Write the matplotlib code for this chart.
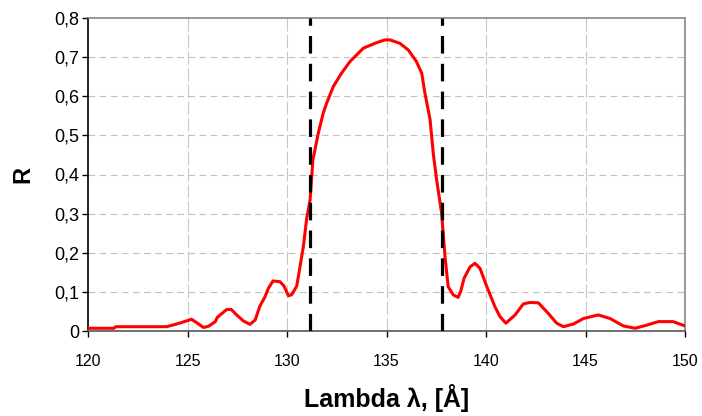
import matplotlib
matplotlib.use("Agg")
import matplotlib.pyplot as plt
from matplotlib.ticker import FuncFormatter

plt.rcParams['font.family'] = ['Liberation Sans', 'DejaVu Sans']

wavelength = [120.0, 121.3, 121.4, 123.95, 124.6, 125.2, 125.5, 125.8, 126.05, 126.4, 126.5,
              126.97, 127.2, 127.47, 127.8, 128.14, 128.4, 128.64, 128.9, 129.06, 129.3,
              129.65, 129.85, 130.07, 130.24, 130.49, 130.82, 130.99, 131.16, 131.3, 131.57,
              131.82, 131.99, 132.33, 132.74, 133.17, 133.84, 134.5, 134.92, 135.18, 135.68,
              136.1, 136.5, 136.77, 136.93, 137.19, 137.35, 137.52, 137.77, 137.94, 138.1,
              138.36, 138.6, 138.72, 138.9, 139.2, 139.45, 139.7, 140.03, 140.45, 140.7,
              141.0, 141.46, 141.87, 142.2, 142.63, 143.13, 143.55, 143.89, 144.4, 144.9,
              145.64, 146.23, 146.9, 147.49, 148.08, 148.66, 149.4, 150.0]
reflectance = [0.007, 0.007, 0.011, 0.011, 0.020, 0.030, 0.020, 0.009, 0.012, 0.024, 0.035,
               0.055, 0.055, 0.041, 0.026, 0.017, 0.028, 0.064, 0.088, 0.109, 0.128,
               0.126, 0.115, 0.090, 0.093, 0.115, 0.215, 0.288, 0.335, 0.437, 0.505,
               0.557, 0.582, 0.625, 0.659, 0.689, 0.723, 0.737, 0.744, 0.744, 0.735,
               0.718, 0.689, 0.659, 0.608, 0.540, 0.454, 0.386, 0.301, 0.190, 0.113,
               0.092, 0.086, 0.100, 0.135, 0.164, 0.173, 0.160, 0.115, 0.062, 0.037,
               0.020, 0.041, 0.069, 0.073, 0.072, 0.045, 0.020, 0.011, 0.018, 0.032,
               0.041, 0.032, 0.013, 0.007, 0.015, 0.024, 0.024, 0.013]
band_edges = [131.15, 137.8]
x_ticks = [120, 125, 130, 135, 140, 145, 150]
y_ticks = [0, 0.1, 0.2, 0.3, 0.4, 0.5, 0.6, 0.7, 0.8]

fig = plt.figure(figsize=(7.02, 4.16), dpi=100)
ax = fig.add_axes([88/702, 1-331/416, (685-88)/702, (331-18)/416])

for yv in y_ticks[1:-1]:
    ax.axhline(yv, color='#c0c0c0', lw=0.8, dashes=(6, 4), zorder=0)
for xv in x_ticks[1:-1]:
    ax.axvline(xv, color='#c8c8c8', lw=0.8, dashes=(12, 3), zorder=0)

ax.plot(wavelength, reflectance, color='#ff0000', lw=2.2, zorder=3)
for xe in band_edges:
    ax.axvline(xe, color='black', lw=2.3, dashes=(5.5, 3.2), zorder=4)

ax.set_xlim(120, 150)
ax.set_ylim(0, 0.8)
ax.set_xticks(x_ticks)
ax.set_yticks(y_ticks)
ax.yaxis.set_major_formatter(FuncFormatter(lambda v, p: '0' if abs(v) < 1e-9 else f'{v:.1f}'.replace('.', ',')))
ax.tick_params(axis='both', direction='out', length=4.3, color='black', width=1)
ax.tick_params(axis='x', pad=12, labelsize=11.5)
ax.tick_params(axis='y', pad=2, labelsize=13)
ax.spines['left'].set_color('black')
ax.spines['bottom'].set_color('#555555')
ax.spines['top'].set_color('#888888')
ax.spines['right'].set_color('#888888')
for s in ax.spines.values():
    s.set_linewidth(1.2)

ax.set_xlabel('Lambda λ, [Å]', fontsize=18, fontweight='bold')
ax.set_ylabel('R', fontsize=17, fontweight='bold')
ax.xaxis.set_label_coords(0.5, (331-384)/313)
ax.yaxis.set_label_coords((34-88)/597, 0.5)

fig.savefig('out.png', dpi=100)
